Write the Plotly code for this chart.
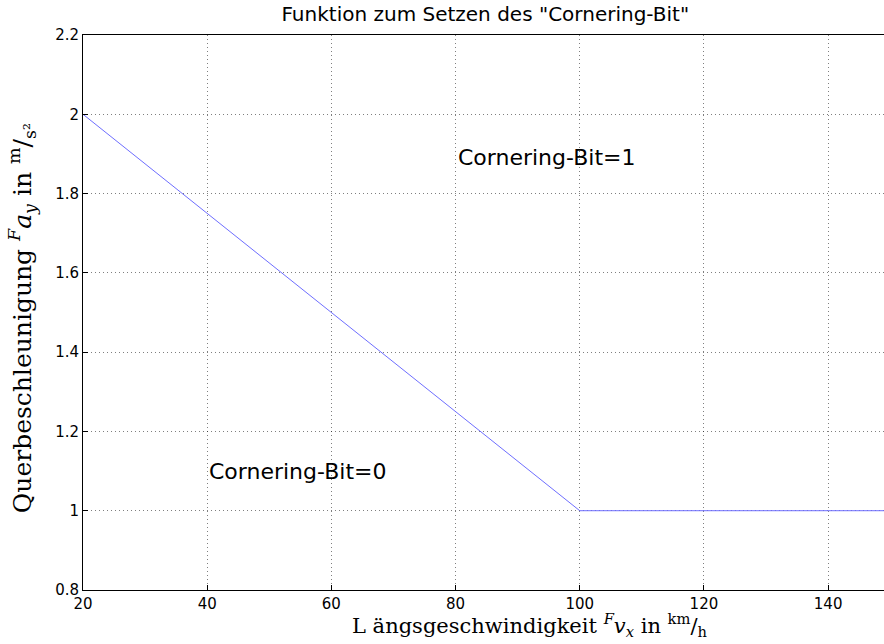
import plotly.graph_objects as go

# data
speed_kmh = [20, 100, 150]
accel_ms2 = [2.0, 1.0, 1.0]
x_ticks = [20, 40, 60, 80, 100, 120, 140]
y_ticks = [0.8, 1.0, 1.2, 1.4, 1.6, 1.8, 2.0, 2.2]
y_tick_labels = ["0.8", "1", "1.2", "1.4", "1.6", "1.8", "2", "2.2"]
region_labels = ["Cornering-Bit=1", "Cornering-Bit=0"]
region_x = [80, 40]
region_y = [1.89, 1.10]
title_text = 'Funktion zum Setzen des "Cornering-Bit"'
x_title = "L ängsgeschwindigkeit <sup><i>F</i></sup><i>v<sub>x</sub></i> in <sup>km</sup>/<sub>h</sub>"
y_title = "Querbeschleunigung <sup><i>F</i></sup><i>a<sub>y</sub></i> in <sup>m</sup>/<sub>s²</sub>"

fig = go.Figure()
fig.add_trace(go.Scatter(x=speed_kmh, y=accel_ms2, mode="lines",
                         line=dict(color="rgb(110,110,255)", width=1),
                         showlegend=False, hoverinfo="skip"))

for t, xx, yy in zip(region_labels, region_x, region_y):
    fig.add_annotation(x=xx, y=yy, text=t, showarrow=False, xanchor="left",
                       yanchor="middle",
                       font=dict(family="DejaVu Sans, Arial", size=22, color="black"))

serif = "DejaVu Serif, Liberation Serif, serif"
fig.add_annotation(xref="paper", yref="paper", x=0.558, y=-0.0935, text=x_title,
                   showarrow=False, xanchor="center", yanchor="bottom",
                   font=dict(family=serif, size=21, color="black"))
fig.add_annotation(xref="paper", yref="paper", x=-0.076, y=0.49, text=y_title,
                   showarrow=False, xanchor="center", yanchor="middle", textangle=-90,
                   font=dict(family=serif, size=25, color="black"))

axis_common = dict(showline=True, linecolor="black", linewidth=1,
                   ticks="inside", ticklen=5, tickcolor="black",
                   showgrid=True, gridcolor="rgba(0,0,0,0.5)", griddash="1px,3px",
                   gridwidth=1, zeroline=False,
                   tickfont=dict(family="DejaVu Sans, Arial", size=15, color="black"))

fig.update_xaxes(range=[20, 149], tickvals=x_ticks, mirror=True, **axis_common)
fig.update_yaxes(range=[0.8, 2.2], tickvals=y_ticks, ticktext=y_tick_labels, **axis_common)

fig.update_layout(
    width=884, height=644,
    margin=dict(l=83, r=0, t=35, b=54),
    paper_bgcolor="white", plot_bgcolor="white",
    title=dict(text=title_text, x=0.549, xanchor="center",
               y=0.978, yanchor="middle",
               font=dict(family="DejaVu Sans, Arial", size=20, color="black")),
)

fig.write_html("out.html")
